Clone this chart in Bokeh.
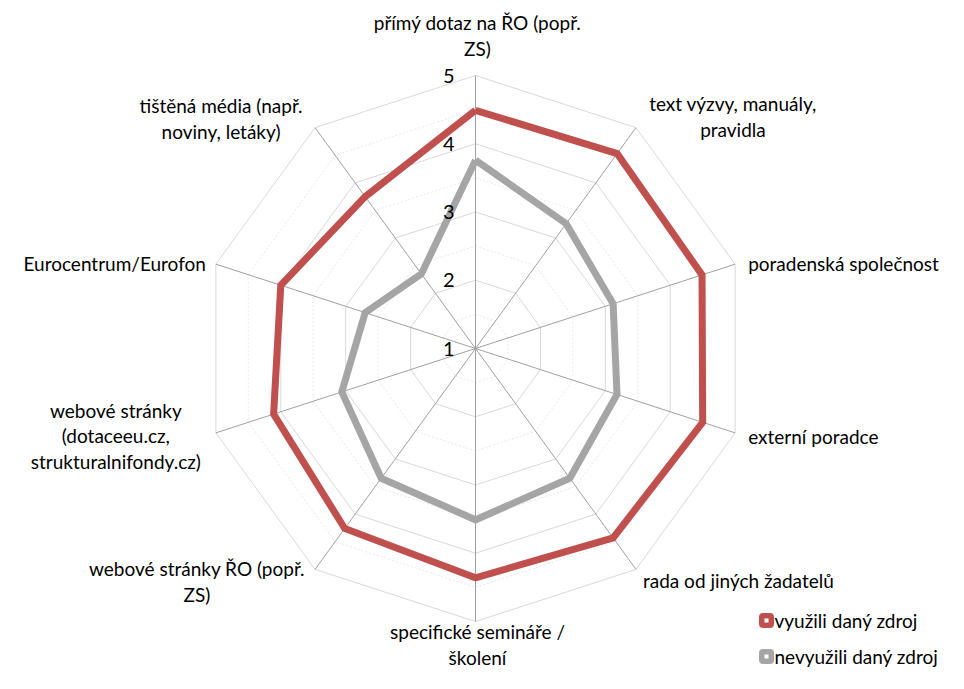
import math
from bokeh.plotting import figure
from bokeh.models import Range1d
from bokeh.core.properties import value
from bokeh.embed import file_html
from bokeh.resources import INLINE

categories = [
    "přímý dotaz na ŘO (popř.\nZS)",
    "text výzvy, manuály,\npravidla",
    "poradenská společnost",
    "externí poradce",
    "rada od jiných žadatelů",
    "specifické semináře /\nškolení",
    "webové stránky ŘO (popř.\nZS)",
    "webové stránky\n(dotaceeu.cz,\nstrukturalnifondy.cz)",
    "Eurocentrum/Eurofon",
    "tištěná média (např.\nnoviny, letáky)",
]
used = [4.49, 4.53, 4.49, 4.50, 4.43, 4.36, 4.26, 4.11, 4.00, 3.75]
not_used = [3.76, 3.26, 3.12, 3.18, 3.35, 3.51, 3.35, 3.06, 2.70, 2.35]
series_names = ["využili daný zdroj", "nevyužili daný zdroj"]
tick_values = [1, 2, 3, 4, 5]
tick_labels = ["1", "2", "3", "4", "5"]

# ---- geometry / style ----
W, H = 948, 673
CX, CY = 475, 348            # centre in canvas pixels
RMIN, RMAX = 1.0, 5.0
RPX = 273.0                  # radius of value 5 in px
FONT = "Lato"
FS = "19px"
LH = 1.1
RED = "#C0504D"
GRAY = "#A5A5A5"

n = len(categories)
angles = [2 * math.pi * i / n for i in range(n)]


def rad(v):
    return (v - RMIN) / (RMAX - RMIN) * RPX


def pt(v, a):
    r = rad(v)
    return r * math.sin(a), r * math.cos(a)


p = figure(width=W, height=H, output_backend="svg", toolbar_location=None,
           x_range=Range1d(-CX, W - CX), y_range=Range1d(-(H - CY), CY),
           min_border=0)
p.axis.visible = False
p.grid.visible = False
p.outline_line_color = None
p.background_fill_color = "white"

# minor grid polygons
for k in range(len(tick_values) - 1):
    v = tick_values[k] + 0.5
    xs = [pt(v, a)[0] for a in angles] + [pt(v, angles[0])[0]]
    ys = [pt(v, a)[1] for a in angles] + [pt(v, angles[0])[1]]
    p.line(xs, ys, line_color="#e8e8e8", line_width=1, line_dash="2 2")

# major grid polygons
for v in tick_values[1:]:
    xs = [pt(v, a)[0] for a in angles] + [pt(v, angles[0])[0]]
    ys = [pt(v, a)[1] for a in angles] + [pt(v, angles[0])[1]]
    p.line(xs, ys, line_color="#d9d9d9", line_width=1)

# spokes
for a in angles:
    x1, y1 = pt(RMAX, a)
    p.line([0, x1], [0, y1], line_color="#a0a0a0", line_width=1)

# series
for vals, col in ((not_used, GRAY), (used, RED)):
    xs = [pt(v, a)[0] for v, a in zip(vals, angles)]
    ys = [pt(v, a)[1] for v, a in zip(vals, angles)]
    xs.append(xs[0]); ys.append(ys[0])
    p.line(xs, ys, line_color=col, line_width=7, line_join="miter")

# tick labels (left of the top spoke)
p.text(x=[-21] * len(tick_values), y=[rad(v) for v in tick_values], text=tick_labels,
       text_font=value(FONT), text_font_size=value("20px"), text_color="#000000",
       text_align="right", text_baseline="middle")

# category labels: offsets (px) from spoke end, alignment
label_style = [
    (2, 40, "center"),
    (97, 11, "center"),
    (13, 1, "left"),
    (13, -4, "left"),
    (7, -11, "left"),
    (2, -23, "center"),
    (-118, -12, "center"),
    (-100, -3, "center"),
    (-10, 1, "right"),
    (-94, 9, "center"),
]
for cat, a, (dx, dy, al) in zip(categories, angles, label_style):
    ex, ey = pt(RMAX, a)
    p.text(x=[ex + dx], y=[ey + dy], text=[cat],
           text_font=value(FONT), text_font_size=value(FS), text_color="#000000",
           text_align=al, text_baseline="middle", text_line_height=LH)

# legend
leg_x = 766 - CX
for i, (name, col) in enumerate(zip(series_names, (RED, GRAY))):
    ly = CY - (620 + 36 * i)
    p.rect(x=[leg_x], y=[ly], width=14, height=14, fill_color=col, line_color=col,
           border_radius=3)
    p.rect(x=[leg_x], y=[ly], width=4, height=4, fill_color="white", line_color=None)
    p.text(x=[leg_x + 8], y=[ly], text=[name], text_font=value(FONT),
           text_font_size=value(FS), text_color="#000000",
           text_align="left", text_baseline="middle")

open("out.html", "w").write(file_html(p, INLINE))
